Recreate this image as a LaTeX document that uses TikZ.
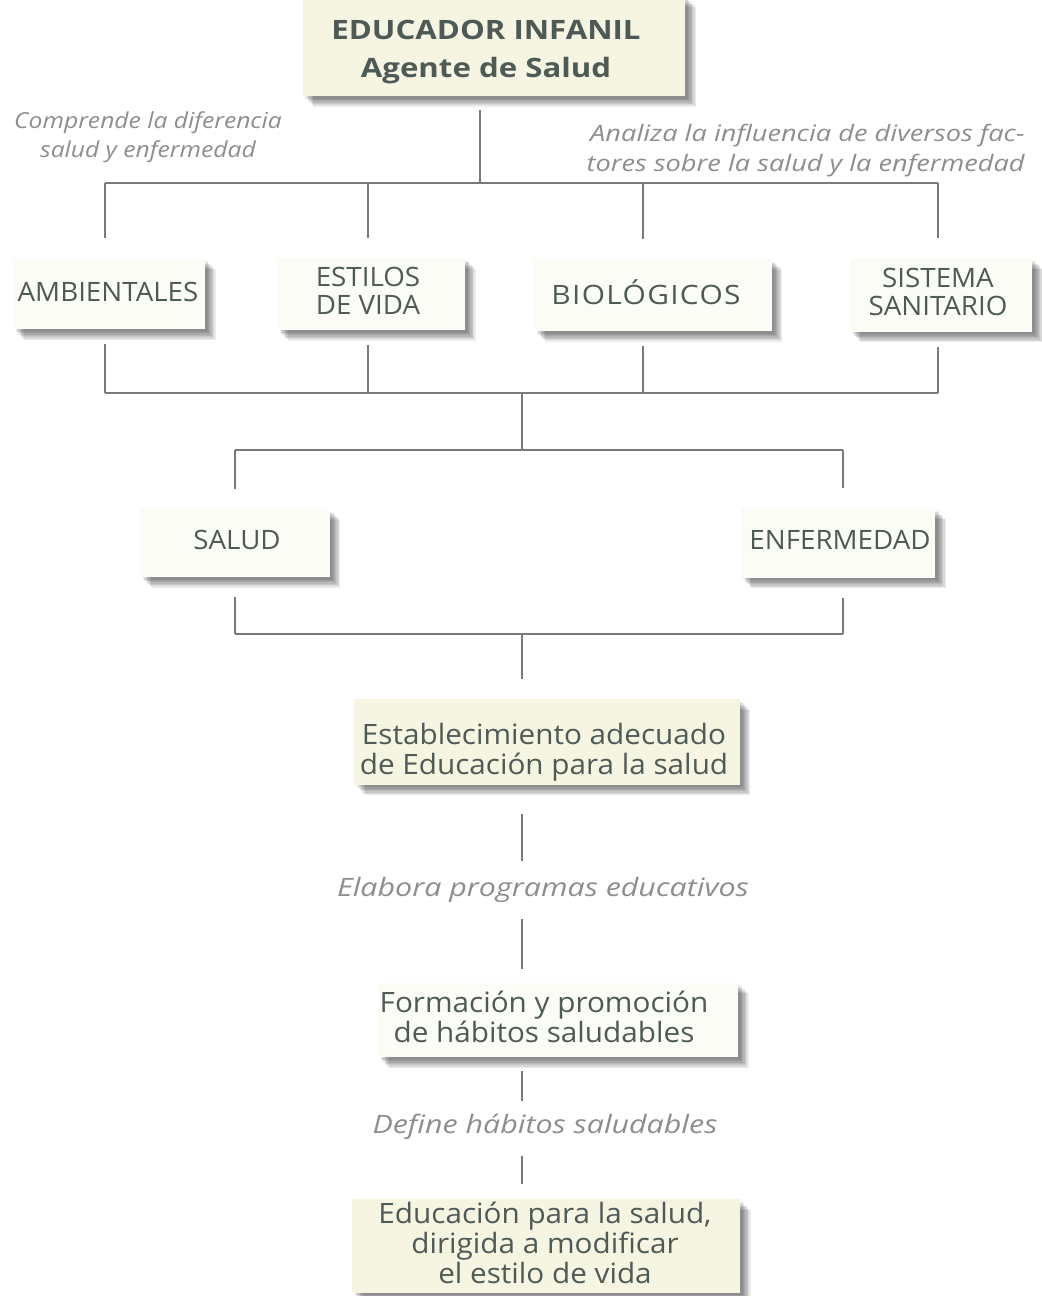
\documentclass[tikz,border=0pt]{standalone}
\usepackage{fontspec}
\setmainfont{Open Sans}
\newfontfamily\capsface[FakeStretch=1.04]{Open Sans}
\newfontfamily\widecapsface[FakeStretch=1.12,LetterSpace=5]{Open Sans}
\newfontfamily\textface[FakeStretch=1.06]{Open Sans}
\newfontfamily\headface[FakeStretch=1.17]{Open Sans}
\newfontfamily\noteface[FakeStretch=1.12]{Open Sans}
\newfontfamily\widenoteface[FakeStretch=1.2]{Open Sans}
\definecolor{ink}{HTML}{4E5A55}
\definecolor{note}{HTML}{8E8E8E}
\definecolor{wire}{HTML}{7A7A7A}
\definecolor{paper}{HTML}{FCFCF7}
\definecolor{cream}{HTML}{F5F5E2}
\tikzset{
  % soft drop shadow: the same outline filled several times, each a little further down-right
  shadowstep/.style={preaction={fill=black, opacity=0.08,
      transform canvas={xshift=#1, yshift=-#1}}},
  card/.style={fill=#1, inner sep=0pt,
    shadowstep=2pt, shadowstep=3pt, shadowstep=4pt, shadowstep=5pt,
    shadowstep=6pt, shadowstep=7pt, shadowstep=8pt},
  card/.default=paper,
  caplbl/.style={text=ink, font=\capsface\fontsize{20}{21}\selectfont, align=center, inner sep=0pt},
  lbl/.style={text=ink, font=\textface\fontsize{21}{22.5}\selectfont, align=center, inner sep=0pt},
  toplbl/.style={text=ink, font=\headface\bfseries\fontsize{20}{28.5}\selectfont, align=center, inner sep=0pt},
  remark/.style={text=note, font=\noteface\itshape\fontsize{16.5}{22}\selectfont, inner sep=0pt},
  bigremark/.style={text=note, font=\widenoteface\itshape\fontsize{19}{22}\selectfont, inner sep=0pt},
  wire/.style={draw=wire, line width=0.9pt},
}
\begin{document}
\begin{tikzpicture}[x=0.75pt, y=-0.75pt]
\useasboundingbox (0,0) rectangle (1042,1296);
\fill[white] (0,0) rectangle (1042,1296);

% ---- boxes ----
\node[card=cream, minimum width=287pt, minimum height=75pt] (top) at (494,46) {};
\node[toplbl] (topt) at (486,52) {EDUCADOR INFANIL\\Agente de Salud};

\node[card, minimum width=144pt, minimum height=53pt] (amb) at (109,294) {};
\node[caplbl] (ambt) at (108,292) {AMBIENTALES};
\node[card, minimum width=141pt, minimum height=54pt] (est) at (371,294) {};
\node[caplbl] (estt) at (368,291) {ESTILOS\\DE VIDA};
\node[card, minimum width=178pt, minimum height=54pt] (bio) at (653,295) {};
\node[caplbl, font=\widecapsface\fontsize{20}{21}\selectfont] (biot) at (646,292) {BIOLÓGICOS};
\node[card, minimum width=137pt, minimum height=55pt] (sis) at (941,295) {};
\node[caplbl] (sist) at (938,292) {SISTEMA\\SANITARIO};

\node[card, minimum width=142pt, minimum height=51pt] (sal) at (235,543) {};
\node[caplbl] (salt) at (237,540) {SALUD};
\node[card, minimum width=146pt, minimum height=52pt] (enf) at (838,543) {};
\node[caplbl] (enft) at (840,540) {ENFERMEDAD};

\node[card=cream, minimum width=289pt, minimum height=64pt] (eda) at (547,742) {};
\node[lbl] (edat) at (544,752) {Establecimiento adecuado\\de Educación para la salud};

\node[card, minimum width=270pt, minimum height=56pt] (hab) at (558,1020) {};
\node[lbl] (habt) at (544,1017) {Formación y promoción\\de hábitos saludables};

\node[card=cream, minimum width=291pt, minimum height=70pt] (mod) at (546,1246) {};
\node[lbl] (modt) at (545,1243) {Educación para la salud,\\dirigida a modificar\\el estilo de vida};

% ---- remarks ----
\node[remark, align=center] (dif) at (148,137) {Comprende la diferencia\\salud y enfermedad};
\node[remark, align=right, anchor=east, font=\widenoteface\itshape\fontsize{17}{22.5}\selectfont] (fac) at (1025,151) {Analiza la influencia de diversos fac-\\tores sobre la salud y la enfermedad};
\node[bigremark] (prog) at (543,890) {Elabora programas educativos};
\node[bigremark] (def) at (545,1127) {Define hábitos saludables};

% ---- junctions ----
\coordinate (b1) at (480,183);
\coordinate (b1a) at (105,183);
\coordinate (b1b) at (368,183);
\coordinate (b1c) at (643,183);
\coordinate (b1d) at (938,183);
\coordinate (b2a) at (105,393);
\coordinate (b2b) at (368,393);
\coordinate (b2c) at (643,393);
\coordinate (b2d) at (938,393);
\coordinate (b2) at (522,393);
\coordinate (b3) at (522,450);
\coordinate (b3a) at (235,450);
\coordinate (b3b) at (843,450);
\coordinate (b4a) at (235,634);
\coordinate (b4b) at (843,634);
\coordinate (b4) at (522,634);
\coordinate (spine) at (522,0);

% ---- connectors ----
\draw[wire, shorten <=10pt] (top.south -| b1) -- (b1);
\draw[wire] (b1a) -- (b1d);
\draw[wire, shorten >=15pt] (b1a) -- (amb.north -| b1a);
\draw[wire, shorten >=15pt] (b1b) -- (est.north -| b1b);
\draw[wire, shorten >=15pt] (b1c) -- (bio.north -| b1c);
\draw[wire, shorten >=15pt] (b1d) -- (sis.north -| b1d);

\draw[wire, shorten <=11pt] (amb.south -| b2a) -- (b2a);
\draw[wire, shorten <=11pt] (est.south -| b2b) -- (b2b);
\draw[wire, shorten <=11pt] (bio.south -| b2c) -- (b2c);
\draw[wire, shorten <=11pt] (sis.south -| b2d) -- (b2d);
\draw[wire] (b2a) -- (b2d);
\draw[wire] (b2) -- (b3);
\draw[wire] (b3a) -- (b3b);
\draw[wire, shorten >=15pt] (b3a) -- (sal.north -| b3a);
\draw[wire, shorten >=15pt] (b3b) -- (enf.north -| b3b);

\draw[wire, shorten <=15pt] (sal.south -| b4a) -- (b4a);
\draw[wire, shorten <=15pt] (enf.south -| b4b) -- (b4b);
\draw[wire] (b4a) -- (b4b);
\draw[wire, shorten >=15pt] (b4) -- (eda.north -| b4);

\draw[wire, shorten <=22pt, shorten >=12pt] (eda.south -| spine) -- (prog.north -| spine);
\draw[wire, shorten <=12pt, shorten >=10pt] (prog.south -| spine) -- (hab.north -| spine);
\draw[wire, shorten <=10pt, shorten >=10pt] (hab.south -| spine) -- (def.north -| spine);
\draw[wire, shorten <=12pt, shorten >=11pt] (def.south -| spine) -- (mod.north -| spine);
\end{tikzpicture}
\end{document}
